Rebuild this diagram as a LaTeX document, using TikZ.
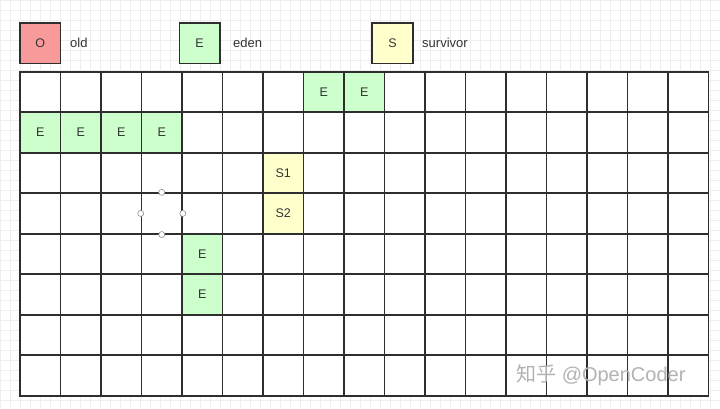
\documentclass[tikz,border=0pt]{standalone}
\usepackage{fontspec}
\setmainfont{Liberation Sans}
\newfontfamily\cjk{Noto Sans CJK SC}
\definecolor{oldred}{HTML}{F89A9A}
\definecolor{edengreen}{HTML}{CCFFCC}
\definecolor{survyellow}{HTML}{FFFFCC}
\definecolor{bgline}{HTML}{EEEEEE}
\definecolor{edgegray}{HTML}{2E2E2E}
\begin{document}
\begin{tikzpicture}[x=1pt,y=-1pt,
  cellbox/.style={draw=edgegray, line width=1.7pt, minimum width=40.5pt, minimum height=40.5pt,
    inner sep=0pt, font=\fontsize{12.5}{14}\selectfont, text=black!80},
  legendtext/.style={anchor=west, inner sep=0pt, font=\fontsize{13}{15}\selectfont, text=black!80},
  handle/.style={circle, draw=black!45, fill=white, line width=0.6pt, minimum size=6pt, inner sep=0pt}]
\useasboundingbox (0,0) rectangle (720,408);
\fill[white] (0,0) rectangle (720,408);
% faint background grid
\foreach \i in {0,...,72} {\draw[bgline, line width=0.6pt] (\i*10,0) -- (\i*10,408);}
\foreach \j in {0,...,41} {\draw[bgline, line width=0.6pt] (0,\j*10) -- (720,\j*10);}
% legend
\node[cellbox, fill=oldred] (lo) at (40.35,43.2) {O};
\node[legendtext] (lot) at (70,43.2) {old};
\node[cellbox, fill=edengreen] (le) at (199.65,43.2) {E};
\node[legendtext] (let) at (233,43.2) {eden};
\node[cellbox, fill=survyellow] (ls) at (392.5,43.2) {S};
\node[legendtext] (lst) at (422,43.2) {survivor};
% grid of regions
\foreach \r in {0,...,7} {
  \foreach \c in {0,...,16} {
    \node[cellbox, fill=white] (c-\r-\c) at (40.25+40.5*\c, 91.95+40.5*\r) {};
  }
}
% eden regions
\node[cellbox, fill=edengreen] (e1) at (c-0-7) {E};
\node[cellbox, fill=edengreen] (e2) at (c-0-8) {E};
\node[cellbox, fill=edengreen] (e3) at (c-1-0) {E};
\node[cellbox, fill=edengreen] (e4) at (c-1-1) {E};
\node[cellbox, fill=edengreen] (e5) at (c-1-2) {E};
\node[cellbox, fill=edengreen] (e6) at (c-1-3) {E};
\node[cellbox, fill=edengreen] (e7) at (c-4-4) {E};
\node[cellbox, fill=edengreen] (e8) at (c-5-4) {E};
% survivor regions
\node[cellbox, fill=survyellow] (s1) at (c-2-6) {S1};
\node[cellbox, fill=survyellow] (s2) at (c-3-6) {S2};
% selection handles
\node[handle] (h1) at (c-3-3.north) {};
\node[handle] (h2) at (c-3-3.west) {};
\node[handle] (h3) at (c-3-3.east) {};
\node[handle] (h4) at (c-3-3.south) {};
% watermark
\node[anchor=west, inner sep=0pt, text=black!30, font=\fontsize{20}{22}\selectfont] (wm) at (516,375) {{\cjk 知乎} @OpenCoder};
\end{tikzpicture}
\end{document}
